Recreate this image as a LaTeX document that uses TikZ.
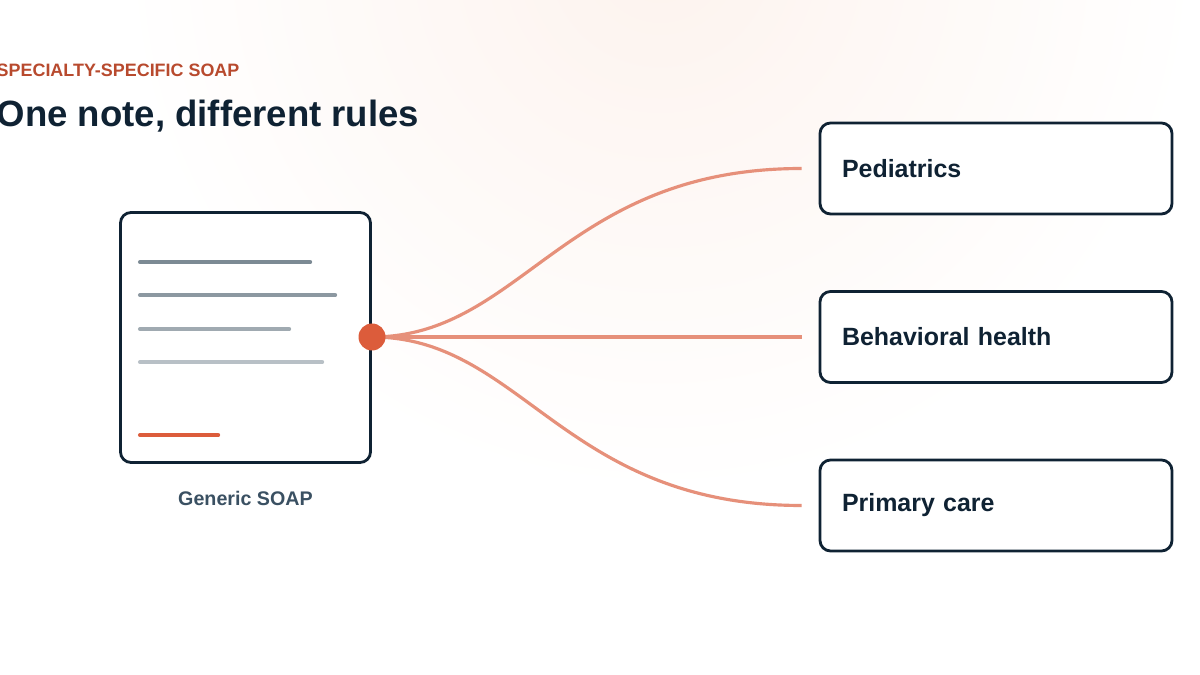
\documentclass[tikz,border=0pt]{standalone}
\usepackage{fontspec}
\setmainfont{Liberation Sans}
\usepackage{xcolor}
\usetikzlibrary{positioning, arrows.meta, calc}
\definecolor{soapnavy}{HTML}{0F2233}
\definecolor{soaprust}{HTML}{B84A2E}
\definecolor{soaporange}{HTML}{DC5C3B}
\definecolor{soaplink}{HTML}{E6907A}
\definecolor{soapslate}{HTML}{3A5062}
\definecolor{soapglow}{HTML}{FDF3EE}

\begin{document}
\begin{tikzpicture}[
    docbox/.style={draw=soapnavy, line width=0.8pt, rounded corners=3pt, fill=white, minimum width=2.5cm, minimum height=2.5cm},
    spec/.style={draw=soapnavy, line width=0.8pt, rounded corners=3pt, fill=white, minimum height=0.91cm, text width=3.08cm, inner sep=0.22cm, align=left, font=\fontsize{7.1}{8.5}\selectfont\bfseries, text=soapnavy},
    hubdot/.style={circle, fill=soaporange, minimum size=0.27cm, inner sep=0pt},
    link/.style={draw=soaplink, line width=0.9pt, shorten >=0.17cm},
    textline/.style={line width=1.2pt, line cap=round},
]

% Background
\useasboundingbox (0,0) rectangle (12,6.75);
\fill[white] (0,0) rectangle (12,6.75);
\shade[inner color=soapglow, outer color=white] (6.6,7.2) circle (5.4cm);

% Heading
\node[anchor=base west, inner sep=0pt, text=soaprust, font=\fontsize{5.1}{6}\selectfont\bfseries] (kicker) at (-0.04,5.98) {SPECIALTY-SPECIFIC SOAP};
\node[anchor=base west, inner sep=0pt, text=soapnavy, font=\fontsize{10.4}{12}\selectfont\bfseries] (title) at (-0.04,5.48) {One note, different rules};

% Generic note
\node[docbox] (soap) at (2.455,3.375) {};
\node[below=0.15cm of soap, text=soapslate, font=\fontsize{5.6}{7}\selectfont\bfseries] (soaplabel) {Generic SOAP};

\foreach \dy/\len/\col in {0.51/1.70/7C8A94, 0.84/1.95/8C98A1, 1.18/1.49/A0AAB1, 1.51/1.82/B8C0C6} {
    \definecolor{linecol}{HTML}{\col}
    \draw[textline, linecol] ([xshift=0.21cm, yshift=-\dy cm]soap.north west) -- ++(\len,0);
}
\draw[textline, soaporange] ([xshift=0.21cm, yshift=-2.24cm]soap.north west) -- ++(0.78,0);

% Specialties
\node[spec] (ped) at (9.96,5.065) {Pediatrics};
\node[spec] (beh) at (9.96,3.38) {Behavioral health};
\node[spec] (prim) at (9.96,1.695) {Primary care};

% Links
\coordinate (hubc) at (3.72,3.38);
\foreach \n in {ped,beh,prim} {
    \draw[link] (hubc) to[out=0, in=180, out distance=1.5cm, in distance=2.55cm] (\n.west);
}
\node[hubdot] (hub) at (hubc) {};

\end{tikzpicture}
\end{document}
